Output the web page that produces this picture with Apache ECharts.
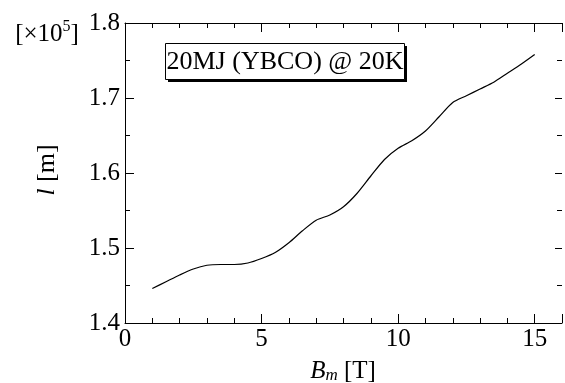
<!DOCTYPE html>
<html>
<head>
<meta charset="utf-8">
<script src="https://cdn.jsdelivr.net/npm/echarts@6/dist/echarts.min.js"></script>
<style>html,body{margin:0;padding:0;background:#fff}#c{width:565px;height:383px}</style>
</head>
<body>
<div id="c"></div>
<script>
var bField = [1.0,1.5,2.0,2.5,3.0,3.5,4.0,4.5,5.0,5.5,6.0,6.5,7.0,7.5,8.0,8.5,9.0,9.5,10.0,10.5,11.0,11.5,12.0,12.5,13.0,13.5,14.0,14.5,15.0];
var lengthE5 = [1.446,1.455,1.464,1.472,1.477,1.478,1.478,1.480,1.486,1.494,1.507,1.523,1.537,1.544,1.555,1.573,1.596,1.618,1.633,1.643,1.656,1.675,1.694,1.703,1.712,1.721,1.733,1.745,1.758];
var xTickLabels = ['0','5','10','15'];
var yTickLabels = ['1.4','1.5','1.6','1.7','1.8'];
var annotation = '20MJ (YBCO) @ 20K';

var FONT = 'Liberation Serif';
var chart = echarts.init(document.getElementById('c'), null, {renderer:'canvas'});
var pts = bField.map(function(b,i){return [b, lengthE5[i]];});

function xAx(pos, interval, len, showLine, showLabel){
  return {type:'value', gridIndex:0, position:pos, min:0, max:16, interval:interval,
    axisLine:{show:showLine, onZero:false, lineStyle:{color:'#000', width:1}},
    axisTick:{show:true, inside:true, length:len, lineStyle:{color:'#000', width:1}},
    splitLine:{show:false},
    axisLabel:{show:showLabel, margin:4, color:'#000', fontFamily:FONT, fontSize:25,
      formatter:function(v){var s=String(Math.round(v)); return xTickLabels.indexOf(s)>=0 && Math.abs(v-Math.round(v))<1e-6 ? s : '';}}
  };
}
function yAx(pos, interval, len, showLine, showLabel){
  return {type:'value', gridIndex:0, position:pos, min:1.4, max:1.8, interval:interval,
    axisLine:{show:showLine, onZero:false, lineStyle:{color:'#000', width:1}},
    axisTick:{show:true, inside:true, length:len, lineStyle:{color:'#000', width:1}},
    splitLine:{show:false},
    axisLabel:{show:showLabel, margin:5, color:'#000', fontFamily:FONT, fontSize:25,
      formatter:function(v){var s=v.toFixed(1); return yTickLabels.indexOf(s)>=0 ? s : '';}}
  };
}

chart.setOption({
  animation:false,
  backgroundColor:'#fff',
  grid:{left:125, right:0, top:23, bottom:60, containLabel:false, show:false},
  xAxis:[
    xAx('bottom',5,9,true,true),
    xAx('bottom',1,5,false,false),
    xAx('top',5,9,true,false),
    xAx('top',1,5,false,false)
  ],
  yAxis:[
    yAx('left',0.1,9,true,true),
    yAx('left',0.05,5,false,false),
    yAx('right',0.1,7,false,false),
    yAx('right',0.05,5,false,false)
  ],
  series:[{
    type:'line', xAxisIndex:0, yAxisIndex:0, data:pts, showSymbol:false, symbol:'none',
    smooth:0.25, lineStyle:{color:'#000', width:1.2}
  }],
  graphic:[
    {type:'rect', shape:{x:168, y:46, width:239, height:36}, style:{fill:'#000'}, z:10},
    {type:'rect', shape:{x:165.5, y:43.5, width:239, height:36}, style:{fill:'#fff', stroke:'#000', lineWidth:1}, z:11},
    {type:'text', x:285, y:62, z:12, style:{text:annotation, fill:'#000', font:'26px "Liberation Serif"', align:'center', verticalAlign:'middle'}},
    {type:'text', x:343, y:371, z:12, style:{text:'{i|B}{s|m}{n| [T]}', align:'center', verticalAlign:'middle',
      rich:{i:{fontFamily:FONT, fontStyle:'italic', fontSize:25, fill:'#000'},
            s:{fontFamily:FONT, fontStyle:'italic', fontSize:17, fill:'#000', padding:[10,0,0,0]},
            n:{fontFamily:FONT, fontSize:25, fill:'#000'}}}},
    {type:'text', x:47, y:170, rotation:Math.PI/2, z:12, style:{text:'{i|l}{n| [m]}', align:'center', verticalAlign:'middle',
      rich:{i:{fontFamily:FONT, fontStyle:'italic', fontSize:26, fill:'#000'},
            n:{fontFamily:FONT, fontSize:26, fill:'#000'}}}},
    {type:'text', x:47, y:34, z:12, style:{text:'{n|[×10}{s|5}{n|]}', align:'center', verticalAlign:'middle',
      rich:{n:{fontFamily:FONT, fontSize:25, fill:'#000'},
            s:{fontFamily:FONT, fontSize:16, fill:'#000', padding:[0,0,14,0]}}}}
  ]
});
</script>
</body>
</html>
